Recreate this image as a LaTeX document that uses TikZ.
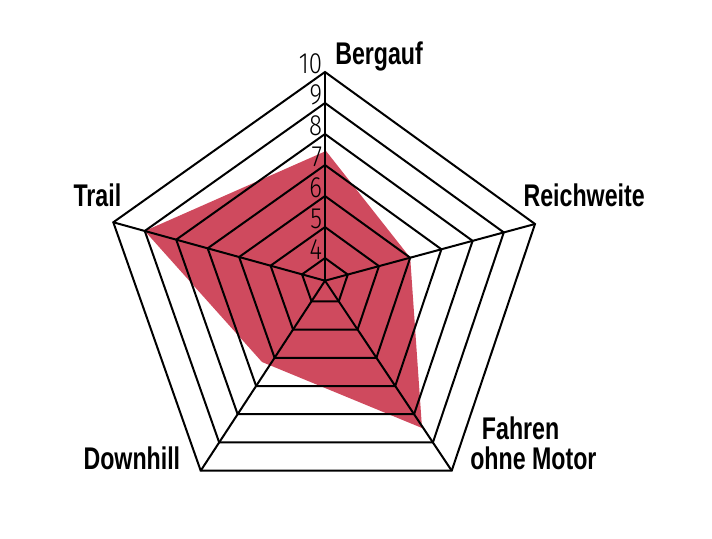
\documentclass[tikz,border=0pt]{standalone}
\usepackage{fontspec}
\usetikzlibrary{calc}
\IfFontExistsTF{Fira Sans Light}{\newfontfamily\numfont{Fira Sans Light}[FakeStretch=0.82]}{\newfontfamily\numfont{Fira Sans}[FakeStretch=0.82]}
\newfontfamily\labfont{Liberation Sans}[FakeStretch=0.74]
\definecolor{radarred}{RGB}{207,74,94}
\begin{document}
\begin{tikzpicture}[x=0.75pt,y=-0.75pt,
  grid/.style={draw=black,line width=1.5pt,line join=miter},
  lab/.style={font=\labfont\bfseries\fontsize{23.5}{26}\selectfont,inner sep=0pt,anchor=base west},
  num/.style={font=\numfont\fontsize{22}{24}\selectfont,inner sep=0pt,anchor=base east}]
\useasboundingbox (0,0) rectangle (712,538);
\coordinate (C) at (325,280.7);
\coordinate (A1) at (325,72);
\coordinate (A2) at (535,224);
\coordinate (A3) at (451.7,470.7);
\coordinate (A4) at (200.7,470.7);
\coordinate (A5) at (113.3,222.3);
% data area
\coordinate (D1) at (326,151);
\coordinate (D2) at ($(C)!{(6-3.27)/6.73}!(A2)$);
\coordinate (D3) at (422,428);
\coordinate (D4) at (262,362);
\coordinate (D5) at ($(C)!{(9-3.27)/6.73}!(A5)$);
\fill[radarred] (D1) -- (D2) -- (D3) -- (D4) -- (D5) -- cycle;
% grid
\foreach \v in {4,...,10}{
  \pgfmathsetmacro\f{(\v-3.27)/6.73}
  \draw[grid] ($(C)!\f!(A1)$) -- ($(C)!\f!(A2)$) -- ($(C)!\f!(A3)$) -- ($(C)!\f!(A4)$) -- ($(C)!\f!(A5)$) -- cycle;
}
\foreach \i in {1,...,5}{\draw[grid] (C) -- (A\i);}
% scale numbers
\foreach \v in {4,...,10}{
  \pgfmathsetmacro\f{(\v-3.27)/6.73}
  \node[num,xshift=-2pt,yshift=-1pt] (n\v) at ($(C)!\f!(A1)$) {\v};
}
% axis labels
\node[lab] (berg) at (335,64.3) {Bergauf};
\node[lab] (trail) at (73.3,206.7) {Trail};
\node[lab] (reich) at (523.3,206.7) {Reichweite};
\node[lab] (fahren) at (481.7,439.3) {Fahren};
\node[lab] (ohne) at (470,469.3) {ohne Motor};
\node[lab] (down) at (83.3,469.3) {Downhill};
\end{tikzpicture}
\end{document}
